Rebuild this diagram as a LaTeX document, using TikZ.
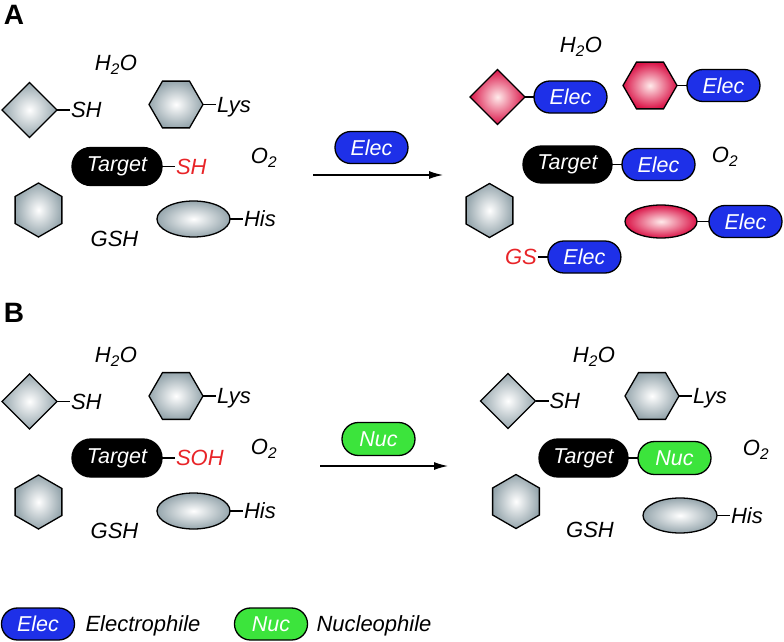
\documentclass[tikz,border=0pt]{standalone}
\usepackage{fontspec}
\setmainfont{Liberation Sans}
\usetikzlibrary{arrows.meta,positioning,shapes.geometric}

\definecolor{grayedge}{RGB}{150,166,173}
\definecolor{pinkedge}{RGB}{218,20,72}
\definecolor{elecblue}{RGB}{30,48,232}
\definecolor{nucgreen}{RGB}{60,228,60}
\definecolor{redtext}{RGB}{232,36,40}

\tikzset{
  txt/.style={font=\fontsize{22}{26}\selectfont\itshape,inner sep=1pt,outer sep=0pt,text height=15.5pt,text depth=0pt},
  panel/.style={font=\fontsize{28}{32}\selectfont\bfseries,inner sep=0pt},
  gball/.style={draw=black,line width=1.3pt,shading=radial,inner color=white,outer color=grayedge,inner sep=0pt,outer sep=0pt},
  pball/.style={gball,inner color=red!8,outer color=pinkedge},
  dia/.style={diamond,minimum width=55pt,minimum height=55pt},
  hexa/.style={regular polygon,regular polygon sides=6,minimum size=54pt},
  hexb/.style={hexa,shape border rotate=90},
  ovl/.style={ellipse,minimum width=73pt,minimum height=36pt},
  pill/.style={draw=black,line width=1.3pt,rounded corners=15.9pt,minimum width=73pt,minimum height=32pt,inner sep=0pt,outer sep=0pt,text=white,font=\fontsize{21.5}{25}\selectfont\itshape},
  elec/.style={pill,fill=elecblue},
  nuc/.style={pill,fill=nucgreen},
  tgt/.style={pill,fill=black,minimum width=90pt,minimum height=38pt,rounded corners=18.9pt},
  bond/.style={line width=1.6pt},
  rxn/.style={-{Latex[length=14pt,width=8pt]},line width=1.3pt},
}

\begin{document}
\begin{tikzpicture}[x=1pt,y=-1pt]
\useasboundingbox (0,0) rectangle (784,642);

% panel A, before
\node[panel] (labA) at (14,15) {A};
\node[txt] (wA1) at (116,63) {H\textsubscript{2}O};
\node[gball,dia] (dA1) at (29.5,110) {};
\node[txt,right=13pt of dA1] (sA1) {SH};
\node[gball,hexa] (hA1) at (176,104.5) {};
\node[txt,right=13pt of hA1] (lA1) {Lys};
\node[txt] (oA1) at (264,156) {O\textsubscript{2}};
\node[tgt] (tA1) at (117,166.5) {Target};
\node[txt,text=redtext,right=13pt of tA1] (rA1) {SH};
\node[gball,hexb] (hA2) at (38.5,210) {};
\node[gball,ovl] (eA1) at (193.5,219) {};
\node[txt,right=13pt of eA1] (iA1) {His};
\node[txt] (gA1) at (114.5,239) {GSH};
\draw[bond] (dA1) -- (sA1);
\draw[bond] (hA1) -- (lA1);
\draw[bond] (tA1) -- (rA1);
\draw[bond] (eA1) -- (iA1);

% reaction A
\node[elec] (xA) at (371.5,147.5) {Elec};
\coordinate (arrA0) at (313,175);
\coordinate (arrA1) at (443,175);
\draw[rxn] (arrA0) -- (arrA1);

% panel A, after
\node[txt] (wA2) at (581,45) {H\textsubscript{2}O};
\node[pball,dia] (dA2) at (497.5,97) {};
\node[elec,right=9pt of dA2] (eA2) {Elec};
\node[pball,hexa] (hA3) at (650,85.5) {};
\node[elec,right=10pt of hA3] (eA3) {Elec};
\node[txt] (oA2) at (725,155) {O\textsubscript{2}};
\node[tgt,minimum width=89pt,minimum height=37pt,rounded corners=18.4pt] (tA2) at (567.5,164.5) {Target};
\node[elec,right=10pt of tA2] (eA4) {Elec};
\node[gball,hexb] (hA4) at (489.5,210.5) {};
\node[pball,ovl,minimum width=72pt,minimum height=33pt] (oA3) at (661,221.5) {};
\node[elec,right=12pt of oA3] (eA5) {Elec};
\node[txt,text=redtext] (gA2) at (521,257) {GS};
\node[elec,right=10pt of gA2] (eA6) {Elec};
\draw[bond] (dA2) -- (eA2);
\draw[bond] (hA3) -- (eA3);
\draw[bond] (tA2) -- (eA4);
\draw[bond] (oA3) -- (eA5);
\draw[bond] (gA2) -- (eA6);

% panel B, before
\node[panel] (labB) at (14,313) {B};
\node[txt] (wB1) at (116,355) {H\textsubscript{2}O};
\node[gball,dia] (dB1) at (29.5,401.5) {};
\node[txt,right=13pt of dB1] (sB1) {SH};
\node[gball,hexa] (hB1) at (176,396) {};
\node[txt,right=13pt of hB1] (lB1) {Lys};
\node[txt] (oB1) at (264,447) {O\textsubscript{2}};
\node[tgt] (tB1) at (117,458) {Target};
\node[txt,text=redtext,right=13pt of tB1] (rB1) {SOH};
\node[gball,hexb] (hB2) at (38.5,502) {};
\node[gball,ovl] (eB1) at (193.5,511) {};
\node[txt,right=13pt of eB1] (iB1) {His};
\node[txt] (gB1) at (114.5,531) {GSH};
\draw[bond] (dB1) -- (sB1);
\draw[bond] (hB1) -- (lB1);
\draw[bond] (tB1) -- (rB1);
\draw[bond] (eB1) -- (iB1);

% reaction B
\node[nuc,minimum height=33pt,rounded corners=16.4pt] (xB) at (378.5,439) {Nuc};
\coordinate (arrB0) at (320,466);
\coordinate (arrB1) at (448,466);
\draw[rxn] (arrB0) -- (arrB1);

% panel B, after
\node[txt] (wB2) at (594,355) {H\textsubscript{2}O};
\node[gball,dia] (dB2) at (508,401) {};
\node[txt,right=13pt of dB2] (sB2) {SH};
\node[gball,hexa] (hB3) at (652,396) {};
\node[txt,right=13pt of hB3] (lB2) {Lys};
\node[txt] (oB2) at (756,448) {O\textsubscript{2}};
\node[tgt,minimum width=89pt] (tB2) at (583.5,458) {Target};
\node[nuc,minimum height=33pt,rounded corners=16.4pt,right=10pt of tB2] (nB2) {Nuc};
\node[gball,hexb] (hB4) at (516,501.5) {};
\node[gball,ovl,minimum width=74pt,minimum height=35pt] (eB2) at (680,515.5) {};
\node[txt,right=13pt of eB2] (iB2) {His};
\node[txt] (gB2) at (590,530) {GSH};
\draw[bond] (dB2) -- (sB2);
\draw[bond] (hB3) -- (lB2);
\draw[bond] (tB2) -- (nB2);
\draw[bond] (eB2) -- (iB2);

% legend
\node[elec] (kE) at (38,624) {Elec};
\node[txt,right=10pt of kE] (kEt) {Electrophile};
\node[nuc] (kN) at (271,624) {Nuc};
\node[txt,right=8pt of kN] (kNt) {Nucleophile};
\end{tikzpicture}
\end{document}
